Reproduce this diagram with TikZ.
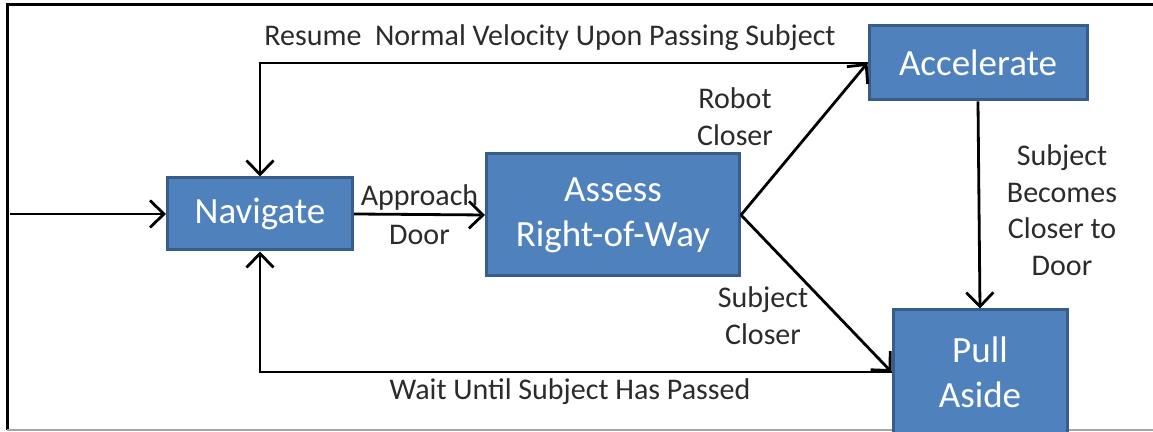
\documentclass[tikz,border=0pt]{standalone}
\usepackage{fontspec}
\setmainfont{Carlito}
\usetikzlibrary{arrows.meta}
\definecolor{boxblue}{HTML}{4F81BD}
\definecolor{boxedge}{HTML}{385D8A}
\definecolor{txtgray}{HTML}{2B2B2B}

\begin{document}
\begin{tikzpicture}[>={Straight Barb[length=7pt,width=13.5pt]}, x=.5pt, y=.5pt,
  state/.style={draw=boxedge, line width=1.5pt, fill=boxblue, text=white,
    align=center, inner sep=0pt, font=\fontsize{18.5}{22.5}\selectfont},
  lbl/.style={text=txtgray, align=center, inner sep=0pt,
    font=\fontsize{15}{18.3}\selectfont},
  link/.style={->, line width=1.4pt}]
\useasboundingbox (0,0) rectangle (1153,432);
% frame
\draw[line width=1.5pt](1153,427)--(7,427)--(7,2);
\draw[gray!70,line width=1pt](7,2)--(1153,2);

% states
\node[state,minimum width=92.5pt,minimum height=36pt](nav) at (260,218){Navigate};
\node[state,minimum width=126.5pt,minimum height=61pt](assess) at (613,217){Assess\\Right-of-Way};
\node[state,minimum width=109pt,minimum height=37pt](acc) at (978,369){Accelerate};
\node[state,minimum width=87pt,minimum height=62pt](pull) at (980,60){Pull\\Aside};

% transitions
\coordinate (start) at (10,218);
\draw[link](start)--(nav.west);
\draw[link](nav.east)--node[lbl]{Approach\\[1pt]Door}(assess.west);
\draw[link](assess.east)--(acc.west);
\draw[link](assess.east)--(pull.west);
\draw[link](acc.south)--(pull.north);
\draw[link](acc.west)--(nav.north|-acc.west)--(nav.north);
\draw[link](pull.west)--(nav.south|-pull.west)--(nav.south);

% labels
\node[lbl](resume) at (550,394){Resume\ \ Normal Velocity Upon Passing Subject};
\node[lbl](robot) at (735,315){Robot\\Closer};
\node[lbl](subj) at (763,116){Subject\\Closer};
\node[lbl](wait) at (570,40){Wait Until Subject Has Passed};
\node[lbl](becomes) at (1062,222){Subject\\Becomes\\Closer to\\Door};
\end{tikzpicture}
\end{document}
